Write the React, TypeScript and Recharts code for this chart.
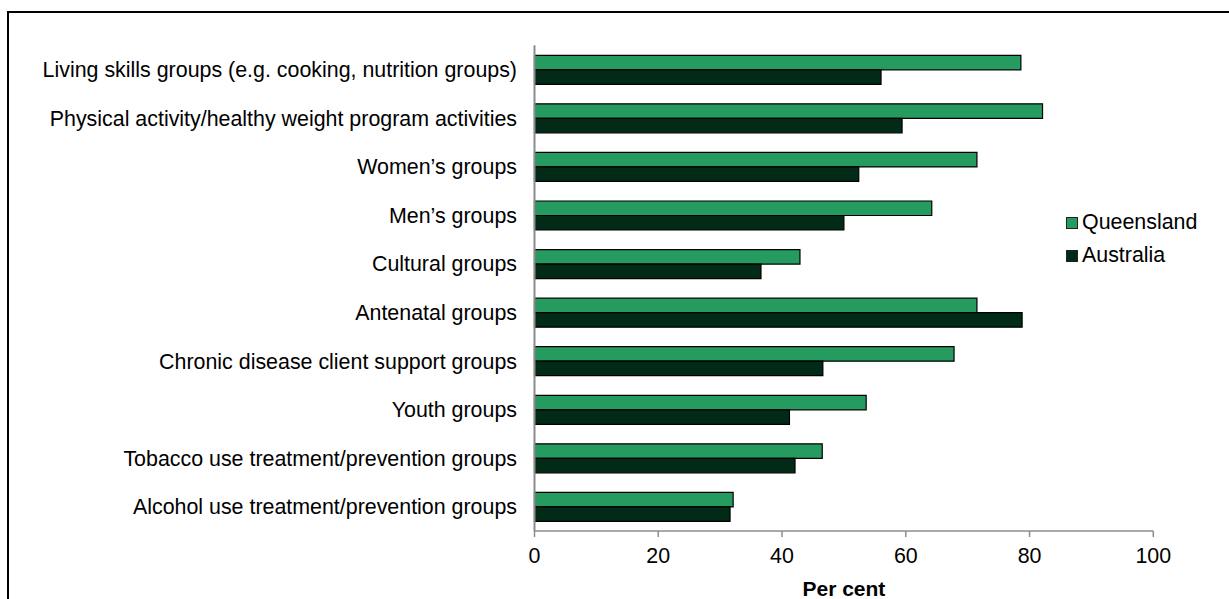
import React from "react";
import { BarChart, Bar, XAxis, YAxis } from "recharts";

const categories = [
  "Living skills groups (e.g. cooking, nutrition groups)",
  "Physical activity/healthy weight program activities",
  "Women\u2019s groups",
  "Men\u2019s groups",
  "Cultural groups",
  "Antenatal groups",
  "Chronic disease client support groups",
  "Youth groups",
  "Tobacco use treatment/prevention groups",
  "Alcohol use treatment/prevention groups",
];
const queensland = [78.6, 82.1, 71.5, 64.2, 42.9, 71.5, 67.8, 53.6, 46.5, 32.1];
const australia = [56.0, 59.4, 52.4, 50.0, 36.6, 78.8, 46.6, 41.2, 42.1, 31.6];
const xTicks = [0, 20, 40, 60, 80, 100];
const seriesNames = ["Queensland", "Australia"];
const seriesColors = ["#269b5f", "#012a17"];

const data = categories.map((name, i) => ({
  name,
  Queensland: queensland[i],
  Australia: australia[i],
}));

const FONT = '"Liberation Sans", Arial, Helvetica, sans-serif';
const AXIS = "#8c8c8c";
const FS = 21.4;

export default function App() {
  return (
    <div
      style={{
        position: "fixed",
        left: 0,
        top: 0,
        width: 1229,
        height: 599,
        overflow: "hidden",
        background: "#fff",
        fontFamily: FONT,
      }}
    >
      <div
        style={{
          position: "absolute",
          left: 7,
          top: 11,
          width: 1260,
          height: 640,
          border: "2px solid #000",
          boxSizing: "border-box",
        }}
      />
      <div style={{ position: "absolute", left: 0, top: 0 }}>
        <BarChart
          width={1229}
          height={599}
          data={data}
          layout="vertical"
          margin={{ top: 45.3, right: 75.7, bottom: 38, left: 0 }}
          barGap={0}
          style={{ fontFamily: FONT }}
        >
          <XAxis
            type="number"
            domain={[0, 100]}
            ticks={xTicks}
            interval={0}
            height={30}
            axisLine={{ stroke: AXIS, strokeWidth: 1.5 }}
            tickLine={{ stroke: AXIS, strokeWidth: 1.5 }}
            tickSize={6}
            tickMargin={11}
            tick={{ fill: "#000", fontSize: FS, fontFamily: FONT }}
            label={{
              value: "Per cent",
              position: "bottom",
              offset: 20,
              style: { fill: "#000", fontSize: 21, fontWeight: "bold", fontFamily: FONT },
            }}
          />
          <YAxis
            type="category"
            dataKey="name"
            width={534.5}
            interval={0}
            axisLine={{ stroke: AXIS, strokeWidth: 2 }}
            tickLine={false}
            tickSize={0}
            tickMargin={17.5}
            tick={{ fill: "#000", fontSize: FS, fontFamily: FONT }}
          />
          {seriesNames.map((s, i) => (
            <Bar
              key={s}
              dataKey={s}
              fill={seriesColors[i]}
              stroke="#000"
              strokeWidth={1.2}
              barSize={14.5}
              isAnimationActive={false}
            />
          ))}
        </BarChart>
      </div>
      <div style={{ position: "absolute", left: 1066, top: 206 }}>
        {seriesNames.map((s, i) => (
          <div
            key={s}
            style={{ display: "flex", alignItems: "center", height: 33, fontSize: FS, color: "#000" }}
          >
            <span
              style={{
                display: "inline-block",
                width: 10,
                height: 10,
                background: seriesColors[i],
                border: "1px solid #222",
                marginRight: 4,
              }}
            />
            {s}
          </div>
        ))}
      </div>
    </div>
  );
}
